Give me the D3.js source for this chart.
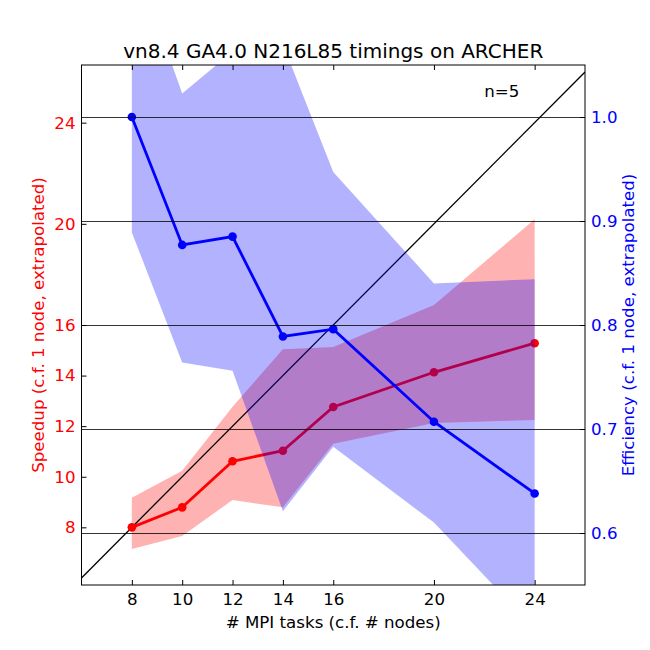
<!DOCTYPE html>
<html>
<head>
<meta charset="utf-8">
<script src="https://cdn.jsdelivr.net/npm/d3@7/dist/d3.min.js"></script>
<style>
  body { margin: 0; background: #fff; }
  text { font-family: "DejaVu Sans", sans-serif; }
  .axis path.domain { display: none; }
  .axis line { stroke: #000; stroke-width: 1; }
  .grid line { stroke: #000; stroke-width: 0.8; }
  .grid path.domain { display: none; }
</style>
</head>
<body>
<div id="chart"></div>
<script>
// data
var tasks = [8, 10, 12, 14, 16, 20, 24];
var speedup = [8.0, 8.79, 10.61, 11.03, 12.76, 14.13, 15.28];
var speedupLo = [7.14, 7.66, 9.08, 8.79, 11.3, 12.13, 12.24];
var speedupHi = [9.17, 10.24, 12.77, 15.04, 15.13, 16.79, 20.18];
var efficiency = [1.0, 0.877, 0.885, 0.789, 0.796, 0.707, 0.638];
var efficiencyLo = [0.889, 0.764, 0.756, 0.621, 0.683, 0.61, 0.508];
var efficiencyHi = [1.16, 1.0225, 1.063, 1.07, 0.947, 0.84, 0.844];

var xTicks = [8, 10, 12, 14, 16, 20, 24];
var speedupTicks = [8, 10, 12, 14, 16, 20, 24];
var efficiencyTicks = [0.6, 0.7, 0.8, 0.9, 1.0];
var idealRange = [6, 26];

var title = "vn8.4 GA4.0 N216L85 timings on ARCHER";
var xLabel = "# MPI tasks (c.f. # nodes)";
var leftLabel = "Speedup (c.f. 1 node, extrapolated)";
var rightLabel = "Efficiency (c.f. 1 node, extrapolated)";
var note = "n=5";

// layout (matplotlib default subplot box on a 650px figure)
var width = 650, height = 650;
var margins = { top: 65, right: 65, bottom: 65, left: 81.5 };
var chartWidth = width - margins.left - margins.right;
var chartHeight = height - margins.top - margins.bottom;
var fontSize = "16.67px";

var svg = d3.select("#chart")
  .append("svg")
  .attr("width", width)
  .attr("height", height);

var chartElement = svg.append("g")
  .attr("transform", `translate(${margins.left},${margins.top})`);

svg.append("defs")
  .append("clipPath")
  .attr("id", "plot-clip")
  .append("rect")
  .attr("width", chartWidth)
  .attr("height", chartHeight);

var xScale = d3.scaleLinear().domain([6, 26]).range([0, chartWidth]);
var yLeft = d3.scaleLinear().domain([5.72, 26.28]).range([chartHeight, 0]);
var yRight = d3.scaleLinear().domain([0.55, 1.05]).range([chartHeight, 0]);

var rows = tasks.map((t, i) => ({
  t: t,
  s: speedup[i], sLo: speedupLo[i], sHi: speedupHi[i],
  e: efficiency[i], eLo: efficiencyLo[i], eHi: efficiencyHi[i]
}));

var plot = chartElement.append("g").attr("clip-path", "url(#plot-clip)");

// speedup band + line (left axes, drawn first)
plot.append("path")
  .datum(rows)
  .attr("fill", "#ff0000")
  .attr("fill-opacity", 0.3)
  .attr("d", d3.area().x(d => xScale(d.t)).y0(d => yLeft(d.sLo)).y1(d => yLeft(d.sHi)));

plot.append("path")
  .datum(idealRange)
  .attr("fill", "none")
  .attr("stroke", "#000")
  .attr("stroke-width", 1.3)
  .attr("d", d3.line().x(d => xScale(d)).y(d => yLeft(d)));

plot.append("path")
  .datum(rows)
  .attr("fill", "none")
  .attr("stroke", "#ff0000")
  .attr("stroke-width", 2.8)
  .attr("d", d3.line().x(d => xScale(d.t)).y(d => yLeft(d.s)));

plot.append("g")
  .selectAll("circle")
  .data(rows)
  .enter()
  .append("circle")
  .attr("cx", d => xScale(d.t))
  .attr("cy", d => yLeft(d.s))
  .attr("r", 4.3)
  .attr("fill", "#ff0000");

// efficiency band + line (twin axes, drawn on top)
plot.append("path")
  .datum(rows)
  .attr("fill", "#0000ff")
  .attr("fill-opacity", 0.3)
  .attr("d", d3.area().x(d => xScale(d.t)).y0(d => yRight(d.eLo)).y1(d => yRight(d.eHi)));

chartElement.append("g")
  .attr("class", "grid")
  .call(d3.axisLeft(yRight).tickValues(efficiencyTicks).tickSize(-chartWidth).tickFormat(""));

plot.append("path")
  .datum(rows)
  .attr("fill", "none")
  .attr("stroke", "#0000ff")
  .attr("stroke-width", 2.8)
  .attr("d", d3.line().x(d => xScale(d.t)).y(d => yRight(d.e)));

plot.append("g")
  .selectAll("circle")
  .data(rows)
  .enter()
  .append("circle")
  .attr("cx", d => xScale(d.t))
  .attr("cy", d => yRight(d.e))
  .attr("r", 4.3)
  .attr("fill", "#0000ff");

// axes, ticks pointing inward
chartElement.append("g")
  .attr("class", "x axis")
  .attr("transform", `translate(0,${chartHeight})`)
  .call(d3.axisBottom(xScale).tickValues(xTicks).tickSizeInner(-5).tickSizeOuter(0).tickPadding(8).tickFormat(d => d))
  .call(g => g.selectAll("text").attr("fill", "#000").style("font-size", fontSize));

chartElement.append("g")
  .attr("class", "x axis top")
  .call(d3.axisTop(xScale).tickValues(xTicks).tickSizeInner(-5).tickSizeOuter(0).tickFormat(""));

chartElement.append("g")
  .attr("class", "y axis left")
  .call(d3.axisLeft(yLeft).tickValues(speedupTicks).tickSizeInner(-5).tickSizeOuter(0).tickPadding(6).tickFormat(d => d))
  .call(g => g.selectAll("text").attr("fill", "#ff0000").style("font-size", fontSize));

chartElement.append("g")
  .attr("class", "y axis right")
  .attr("transform", `translate(${chartWidth},0)`)
  .call(d3.axisRight(yRight).tickValues(efficiencyTicks).tickSizeInner(-5).tickSizeOuter(0).tickPadding(6).tickFormat(d3.format(".1f")))
  .call(g => g.selectAll("text").attr("fill", "#0000ff").style("font-size", fontSize));

// frame
chartElement.append("rect")
  .attr("x", 0)
  .attr("y", 0)
  .attr("width", chartWidth)
  .attr("height", chartHeight)
  .attr("fill", "none")
  .attr("stroke", "#000")
  .attr("stroke-width", 1);

// annotation
chartElement.append("text")
  .attr("x", xScale(22))
  .attr("y", yLeft(25))
  .style("font-size", fontSize)
  .text(note);

// labels
svg.append("text")
  .attr("x", margins.left + chartWidth / 2)
  .attr("y", 58)
  .attr("text-anchor", "middle")
  .style("font-size", "20px")
  .text(title);

svg.append("text")
  .attr("x", margins.left + chartWidth / 2)
  .attr("y", 628)
  .attr("text-anchor", "middle")
  .style("font-size", fontSize)
  .text(xLabel);

svg.append("text")
  .attr("transform", `translate(44,${margins.top + chartHeight / 2}) rotate(-90)`)
  .attr("text-anchor", "middle")
  .attr("fill", "#ff0000")
  .style("font-size", fontSize)
  .text(leftLabel);

svg.append("text")
  .attr("transform", `translate(634,${margins.top + chartHeight / 2}) rotate(-90)`)
  .attr("text-anchor", "middle")
  .attr("fill", "#0000ff")
  .style("font-size", fontSize)
  .text(rightLabel);
</script>
</body>
</html>
